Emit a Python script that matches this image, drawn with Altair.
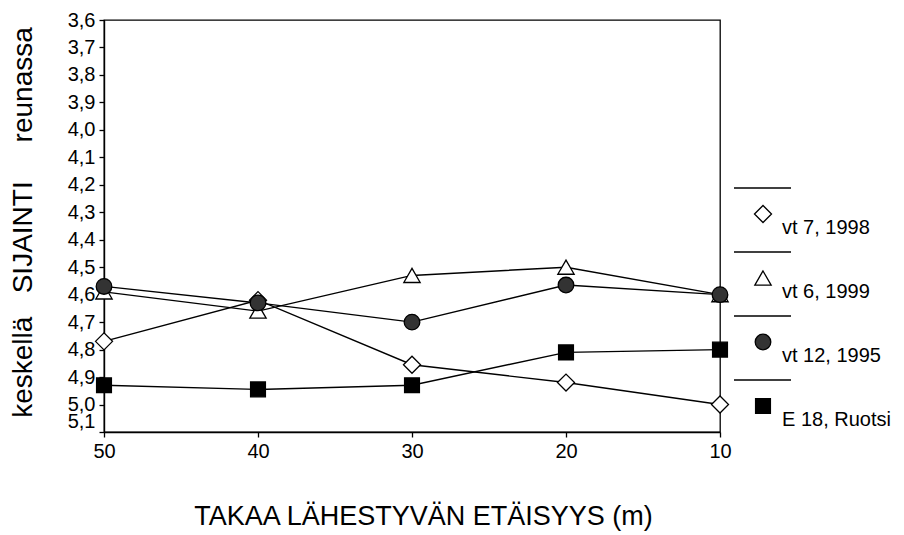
import altair as alt
import pandas as pd

# ---- data ----
distances = [50, 40, 30, 20, 10]
series_names = ["vt 7, 1998", "vt 6, 1999", "vt 12, 1995", "E 18, Ruotsi"]
vt7_1998 = [4.77, 4.62, 4.855, 4.92, 5.00]
vt6_1999 = [4.59, 4.66, 4.53, 4.50, 4.60]
vt12_1995 = [4.57, 4.63, 4.70, 4.565, 4.60]
e18_ruotsi = [4.93, 4.945, 4.93, 4.81, 4.80]
y_ticks = [3.6, 3.7, 3.8, 3.9, 4.0, 4.1, 4.2, 4.3, 4.4, 4.5, 4.6, 4.7, 4.8, 4.9, 5.0, 5.1]
x_ticks = [50, 40, 30, 20, 10]

rows = []
for name, vals in zip(series_names, [vt7_1998, vt6_1999, vt12_1995, e18_ruotsi]):
    for d, v in zip(distances, vals):
        rows.append({"dist": d, "value": v, "series": name})
df = pd.DataFrame(rows)
leg_df = pd.DataFrame({"series": series_names})

FONT = "Liberation Sans"

shape_scale = alt.Scale(domain=series_names, range=["diamond", "triangle-up", "circle", "square"])
fill_scale = alt.Scale(domain=series_names, range=["white", "white", "#333333", "black"])
size_scale = alt.Scale(domain=series_names, range=[290, 220, 280, 130])

x_enc = alt.X(
    "dist:Q",
    scale=alt.Scale(domain=[10, 50], reverse=True, nice=False, zero=False),
    axis=alt.Axis(
        values=x_ticks, format="d", tickSize=5, labelPadding=4, grid=False,
        labelFontSize=20, labelFont=FONT, labelColor="black",
        labelOverlap=False, labelFlush=False, labelBound=False,
        title="TAKAA LÄHESTYVÄN ETÄISYYS (m)",
        titleX=319, titleY=84, titleAlign="center", titleBaseline="middle",
        titleFontSize=27, titleFontWeight="normal", titleFont=FONT, titleColor="black",
    ),
)
y_scale = alt.Scale(domain=[3.6, 5.1], reverse=True, nice=False, zero=False)

line = alt.Chart(df).mark_line(color="black", strokeWidth=1.4).encode(
    x=x_enc,
    y=alt.Y(
        "value:Q", scale=y_scale,
        axis=alt.Axis(
            values=y_ticks, grid=False, tickSize=5, labelPadding=4,
            labelFontSize=20, labelFont=FONT, labelColor="black",
            labelOverlap=False, labelFlush=False, labelBound=False,
            labelExpr="replace(format(datum.value, '.1f'), '.', ',')",
            labelOffset={"condition": {"test": "datum.value > 5.05", "value": -11}, "value": 0},
            title="keskellä\u00a0\u00a0\u00a0SIJAINTI\u00a0\u00a0\u00a0\u00a0\u00a0reunassa",
            titleX=-81, titleY=202, titleAngle=270, titleAlign="center",
            titleBaseline="middle", titleFontSize=28, titleFontWeight="normal",
            titleFont=FONT, titleColor="black",
        ),
    ),
    detail="series:N",
)

points = alt.Chart(df).mark_point(filled=True, stroke="black", strokeWidth=1.3, opacity=1).encode(
    x="dist:Q",
    y=alt.Y("value:Q", scale=y_scale, axis=None),
    shape=alt.Shape("series:N", scale=shape_scale, legend=None),
    fill=alt.Fill("series:N", scale=fill_scale, legend=None),
    size=alt.Size("series:N", scale=size_scale, legend=None),
)

leg_y = alt.Y("series:N", scale=alt.Scale(type="point", domain=series_names, range=[168, 360], padding=0), axis=None)

leg_rule = alt.Chart(leg_df).mark_rule(color="black", strokeWidth=1.3).encode(
    x=alt.value(630), x2=alt.value(687), y=leg_y,
)
leg_pts = alt.Chart(leg_df).mark_point(filled=True, stroke="black", strokeWidth=1.3, opacity=1, yOffset=26).encode(
    x=alt.value(659), y=leg_y,
    shape=alt.Shape("series:N", scale=shape_scale, legend=None),
    fill=alt.Fill("series:N", scale=fill_scale, legend=None),
    size=alt.Size("series:N", scale=size_scale, legend=None),
)
leg_txt = alt.Chart(leg_df).mark_text(
    align="left", baseline="middle", fontSize=20, font=FONT, color="black", yOffset=40
).encode(x=alt.value(678), y=leg_y, text="series:N")

chart = alt.layer(line, points, leg_rule, leg_pts, leg_txt).resolve_scale(
    y="independent"
).properties(
    width=616, height=412, background="white",
    padding={"left": 0, "top": 2, "right": 5, "bottom": 2},
).configure_view(
    stroke="black", strokeWidth=1.3
).configure_axis(
    labelFont=FONT, titleFont=FONT, labelFontSize=20, labelColor="black",
    titleColor="black", domainColor="black", tickColor="black",
    domainWidth=1.4, tickWidth=1.3,
)

chart.save("out.html", embed_options={"renderer": "svg", "actions": False})
